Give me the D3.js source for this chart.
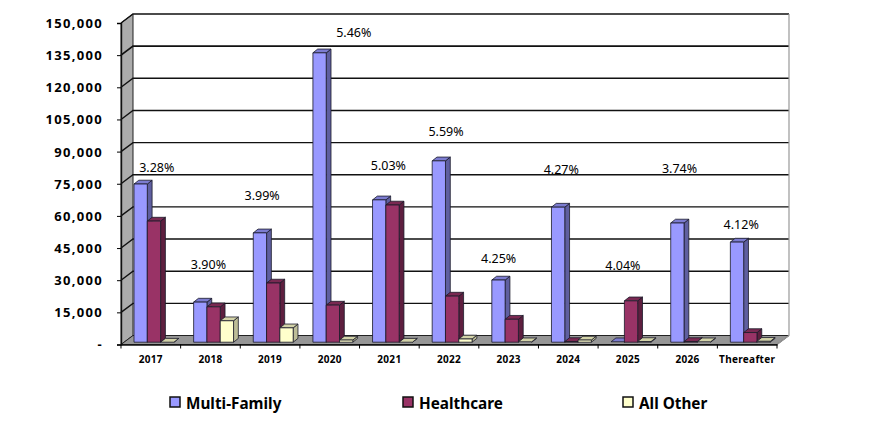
<!DOCTYPE html>
<html><head><meta charset="utf-8">
<script src="https://cdnjs.cloudflare.com/ajax/libs/d3/7.8.5/d3.min.js"></script>
<style>html,body{margin:0;padding:0;background:#fff}svg{display:block}</style>
</head><body><svg id="c" width="870" height="447"></svg>
<script>
const categories=["2017","2018","2019","2020","2021","2022","2023","2024","2025","2026","Thereafter"];
const seriesNames=["Multi-Family","Healthcare","All Other"];
const multiFamily=[73800,18700,51000,135000,66400,84600,29000,63000,200,55600,46700];
const healthcare=[56500,16500,27600,17300,64000,21500,10700,300,19300,300,4500];
const allOther=[0,10000,6700,1000,0,1500,200,1000,300,200,400];
const rates=["3.28%","3.90%","3.99%","5.46%","5.03%","5.59%","4.25%","4.27%","4.04%","3.74%","4.12%"];
const rateLevels=[82500,37500,69500,145500,83300,99300,40000,81800,37000,82300,55800];
const yTicks=[0,15000,30000,45000,60000,75000,90000,105000,120000,135000,150000];

const FONT='"Noto Sans",sans-serif';
const rateShift=[6,-2,-8,24,-1,-3,-10,-7,-5,-8,-6];
const legendX=[170,403,623];
const svg=d3.select("#c");
const L=121,R=777,T=23,B=344.5,DX=12,DY=-9;
const x=d3.scaleBand().domain(categories).range([L,R]);
const y=d3.scaleLinear().domain([0,150000]).range([B,T]);
const bw=13.3,depX=4.8,depY=-3.8,lift=-2.3,inset=13;
const series=[multiFamily,healthcare,allOther];
const fronts=["#9999ff","#993366","#ffffcc"];
const sides=["#5f5fa0","#5e1f3f","#bdbd97"];
const tops=["#7c7cd0","#7a2952","#d3d3a8"];
const path=pts=>"M"+pts.map(p=>p.join(",")).join("L")+"Z";

// walls and floor
svg.append("path").attr("d",path([[L,T],[L+DX,T+DY],[L+DX,B+DY],[L,B]])).attr("fill","#acacac").attr("stroke","#222").attr("stroke-width",1);
svg.append("path").attr("d",path([[L,B],[L+DX,B+DY],[R+DX,B+DY],[R,B]])).attr("fill","#969696").attr("stroke","#222").attr("stroke-width",1);
// gridlines
const major=yTicks.filter(v=>v>0);
svg.append("g").selectAll("path").data(major).join("path")
  .attr("d",v=>`M${L},${y(v)}L${L+DX},${y(v)+DY}L${R+DX},${y(v)+DY}`)
  .attr("fill","none").attr("stroke","#111").attr("stroke-width",v=>v===135000?1.8:1.4);
svg.append("path").attr("d",`M${R+DX},${T+DY}V${B+DY}L${R},${B}`).attr("fill","none").attr("stroke","#999").attr("stroke-width",1.2);

// bars
categories.forEach((c,i)=>{
  series.forEach((s,k)=>{
    const x0=x(c)+inset+k*bw,x1=x0+bw,y0=y(0)+lift,y1=y(s[i])+lift;
    const g=svg.append("g").attr("stroke","#1a1a2a").attr("stroke-width",0.8).attr("stroke-linejoin","round");
    g.append("path").attr("d",path([[x1,y0],[x1+depX,y0+depY],[x1+depX,y1+depY],[x1,y1]])).attr("fill",sides[k]);
    g.append("path").attr("d",path([[x0,y1],[x0+depX,y1+depY],[x1+depX,y1+depY],[x1,y1]])).attr("fill",tops[k]);
    if(y0-y1>0.5) g.append("rect").attr("x",x0).attr("y",y1).attr("width",bw).attr("height",y0-y1).attr("fill",fronts[k]);
  });
});

// axes
const ya=d3.axisLeft(y).tickValues(yTicks).tickSize(4).tickPadding(14)
  .tickFormat(v=>v===0?"-":d3.format(",")(v));
const gy=svg.append("g").attr("transform",`translate(${L},0)`).call(ya);
const xa=d3.axisBottom(x).tickSize(0).tickPadding(11);
const gx=svg.append("g").attr("transform",`translate(0,${B})`).call(xa);
gx.selectAll(".tick").data(categories).append("line").attr("x1",-x.bandwidth()/2).attr("x2",-x.bandwidth()/2).attr("y2",4).attr("stroke","#000");
gx.append("line").attr("x1",R).attr("x2",R).attr("y2",4).attr("stroke","#000");
[gy,gx].forEach(g=>{g.select(".domain").attr("stroke","#111").attr("stroke-width",1.4);g.selectAll(".tick line").attr("stroke","#000");});
gy.selectAll("text").attr("font-family",FONT).attr("font-size",13).attr("font-weight","bold").attr("fill","#000").attr("dy","0.34em").attr("letter-spacing",1.3);
gx.selectAll("text").attr("font-family",FONT).attr("font-size",10).attr("font-weight","bold").attr("fill","#000").attr("letter-spacing",0.3);

// rate labels
svg.append("g").selectAll("text").data(rates).join("text")
  .attr("x",(d,i)=>x(categories[i])+x.bandwidth()/2+rateShift[i])
  .attr("y",(d,i)=>y(rateLevels[i]))
  .attr("text-anchor","middle").attr("dominant-baseline","central")
  .attr("font-family",FONT).attr("font-size",12.5).attr("fill","#000").text(d=>d);

// legend
const lg=svg.append("g").selectAll("g").data(seriesNames).join("g").attr("transform",(d,i)=>`translate(${legendX[i]},397)`);
lg.append("rect").attr("width",10).attr("height",10).attr("fill",(d,i)=>fronts[i]).attr("stroke","#111").attr("stroke-width",1.5);
lg.append("text").attr("x",16).attr("y",5.5).attr("dominant-baseline","central")
  .attr("font-family",FONT).attr("font-size",15.3).attr("font-weight","bold").attr("fill","#000").text(d=>d);
</script></body></html>
